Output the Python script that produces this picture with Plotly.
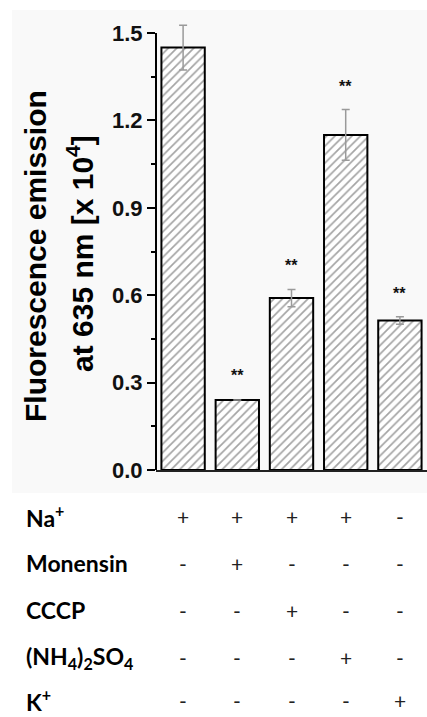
import plotly.graph_objects as go

# ---- data ----
conditions = ["Na+", "Na+ Monensin", "Na+ CCCP", "Na+ (NH4)2SO4", "K+"]
values = [1.45, 0.24, 0.59, 1.15, 0.513]
errors = [0.077, 0.0, 0.03, 0.087, 0.013]
significance = ["", "**", "**", "**", "**"]
sig_y = [None, 0.326, 0.701, 1.318, 0.607]
y_ticks = [0.0, 0.3, 0.6, 0.9, 1.2, 1.5]
row_labels = ["Na<sup>+</sup>", "Monensin", "CCCP",
              "(NH<sub>4</sub>)<sub>2</sub>SO<sub>4</sub>", "K<sup>+</sup>"]
table_signs = [
    ["+", "+", "+", "+", "-"],
    ["-", "+", "-", "-", "-"],
    ["-", "-", "+", "-", "-"],
    ["-", "-", "-", "+", "-"],
    ["-", "-", "-", "-", "+"],
]

W, H = 427, 717
L, R, T, B = 156, 0, 18, 247
plot_h = H - T - B
y0_px = H - B  # pixel row of y=0


def py(p):
    return (y0_px - p) / plot_h


def px(p):
    return (p - L) / (W - L - R)


xs = list(range(len(conditions)))

fig = go.Figure()
fig.add_trace(go.Bar(
    x=xs, y=values, width=0.8,
    marker=dict(color="white",
                line=dict(color="black", width=2),
                pattern=dict(shape="/", fgcolor="#4a4a4a", bgcolor="white",
                             size=6, solidity=0.28)),
    error_y=dict(type="data", array=errors, visible=True,
                 color="#9a9a9a", thickness=1.5, width=4),
    showlegend=False, hoverinfo="skip",
))

annotations = []
for i, s in enumerate(significance):
    if s:
        annotations.append(dict(x=xs[i], y=sig_y[i], xref="x", yref="y",
                                text="<b>" + s + "</b>", showarrow=False,
                                font=dict(size=16, color="#111",
                                          family="Liberation Sans, Arial")))

# y-axis title (two lines)
annotations.append(dict(x=px(35), y=py(256), xref="paper", yref="paper",
                        text="<b>Fluorescence emission</b>", textangle=-90,
                        showarrow=False, xanchor="center", yanchor="middle",
                        font=dict(size=30, color="black",
                                  family="Liberation Sans, Arial")))
annotations.append(dict(x=px(80), y=py(254), xref="paper", yref="paper",
                        text="<b>at 635 nm [x 10<sup>4</sup>]</b>", textangle=-90,
                        showarrow=False, xanchor="center", yanchor="middle",
                        font=dict(size=30, color="black",
                                  family="Liberation Sans, Arial")))

row_y = [516, 563, 610, 657, 701]
for r, lab in enumerate(row_labels):
    annotations.append(dict(x=px(24), y=py(row_y[r]), xref="paper", yref="paper",
                            text="<b>" + lab + "</b>", showarrow=False,
                            xanchor="left", yanchor="middle",
                            font=dict(size=23, color="black",
                                      family="Lato, Open Sans, sans-serif")))
    for c, s in enumerate(table_signs[r]):
        annotations.append(dict(x=xs[c], y=py(row_y[r]), xref="x", yref="paper",
                                text=s, showarrow=False,
                                xanchor="center", yanchor="middle",
                                font=dict(size=21, color="#222",
                                          family="Lato, Open Sans, sans-serif")))

shapes = [
    dict(type="rect", xref="paper", yref="paper",
         x0=px(12), x1=1.0, y0=py(493), y1=py(10),
         fillcolor="#f9f9f9", line=dict(width=0), layer="below"),
    dict(type="line", xref="paper", yref="y", x0=0, x1=0, y0=0, y1=1.5,
         line=dict(color="black", width=2), layer="above"),
]

fig.update_layout(
    width=W, height=H,
    margin=dict(l=L, r=R, t=T, b=B, pad=0),
    paper_bgcolor="white",
    plot_bgcolor="rgba(0,0,0,0)",
    bargap=0.2,
    xaxis=dict(range=[-0.5, 4.5], showticklabels=False, ticks="",
               showgrid=False, zeroline=False, showline=True,
               linecolor="#222", linewidth=2, fixedrange=True),
    yaxis=dict(range=[0, plot_h / 291.33], tickvals=y_ticks,
               ticktext=["<b>%.1f</b>" % v for v in y_ticks],
               ticks="outside", ticklen=8, tickwidth=2, tickcolor="black",
               minor=dict(tickvals=[0.15, 0.45, 0.75, 1.05, 1.35],
                          ticks="outside", ticklen=4, tickwidth=2,
                          tickcolor="black"),
               showgrid=False, zeroline=False, showline=False,
               tickfont=dict(size=22, color="#111",
                             family="Liberation Sans, Arial"),
               fixedrange=True),
    annotations=annotations,
    shapes=shapes,
)

fig.write_html("out.html",
               config={"displayModeBar": False},
               post_script="document.body.style.margin='0';"
                           "document.body.style.overflow='hidden';")
